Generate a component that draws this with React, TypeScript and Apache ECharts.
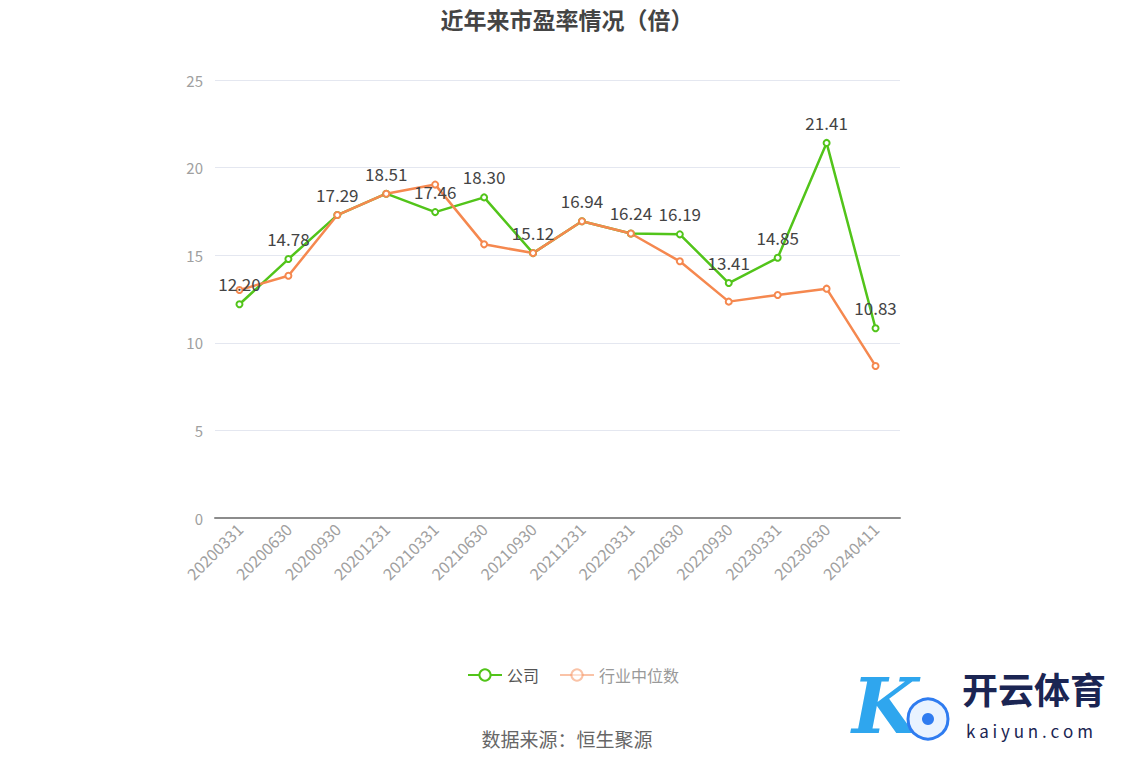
import React, { useEffect, useRef } from "react";
import * as echarts from "echarts";

const categories = ["20200331", "20200630", "20200930", "20201231", "20210331", "20210630", "20210930", "20211231", "20220331", "20220630", "20220930", "20230331", "20230630", "20240411"];
const companyPE = [12.2, 14.78, 17.29, 18.51, 17.46, 18.3, 15.12, 16.94, 16.24, 16.19, 13.41, 14.85, 21.41, 10.83];
const industryPE = [13.01, 13.83, 17.29, 18.51, 19.03, 15.62, 15.12, 16.94, 16.24, 14.65, 12.35, 12.73, 13.09, 8.68];
const seriesNames = ["公司", "行业中位数"];

const GREEN = "#52c41a";
const ORANGE = "#f5884f";
const FONT = "'Noto Sans CJK SC', 'Noto Sans', sans-serif";

export default function App() {
  const ref = useRef<HTMLDivElement>(null);
  useEffect(() => {
    if (!ref.current) return;
    const chart = echarts.init(ref.current, undefined, { renderer: "svg" });
    chart.setOption({
      animation: false,
      textStyle: { fontFamily: FONT },
      title: {
        text: "近年来市盈率情况（倍）",
        left: "center",
        top: 2,
        textStyle: { fontSize: 23, fontWeight: "bold", color: "#444", fontFamily: FONT },
      },
      legend: {
        bottom: 78,
        left: 462,
        itemWidth: 34,
        itemHeight: 14,
        itemGap: 20,
        textStyle: { fontSize: 16, color: "#555", fontFamily: FONT },
        data: [
          { name: seriesNames[0] },
          {
            name: seriesNames[1],
            textStyle: { color: "#999" },
            itemStyle: { opacity: 0.5 },
            lineStyle: { opacity: 0.5 },
          },
        ],
      },
      grid: { left: 215, right: 234, top: 80, bottom: 248, containLabel: false },
      xAxis: {
        type: "category",
        data: categories,
        boundaryGap: true,
        axisLine: { lineStyle: { color: "#8c8c8c", width: 2 } },
        axisTick: { alignWithLabel: true, lineStyle: { color: "#8c8c8c" }, length: 6 },
        axisLabel: { rotate: 45, color: "#a0a0a0", fontSize: 16, margin: 8, fontFamily: FONT },
      },
      yAxis: {
        type: "value",
        min: 0,
        max: 25,
        interval: 5,
        axisLine: { show: false },
        axisTick: { show: false },
        axisLabel: { color: "#a0a0a0", fontSize: 15, margin: 12, fontFamily: FONT },
        splitLine: { lineStyle: { color: "#e4e7f0" } },
      },
      series: [
        {
          name: seriesNames[0],
          type: "line",
          data: companyPE,
          symbol: "emptyCircle",
          symbolSize: 6,
          lineStyle: { color: GREEN, width: 2.5 },
          itemStyle: { color: GREEN, borderWidth: 2 },
          label: {
            show: true,
            position: "top",
            distance: 8,
            color: "#444",
            fontSize: 17,
            formatter: (p: any) => Number(p.value).toFixed(2),
          },
        },
        {
          name: seriesNames[1],
          type: "line",
          data: industryPE,
          symbol: "emptyCircle",
          symbolSize: 6,
          lineStyle: { color: ORANGE, width: 2.5 },
          itemStyle: { color: ORANGE, borderWidth: 2 },
        },
      ],
      graphic: [
        {
          type: "text",
          left: "center",
          top: 729,
          style: { text: "数据来源：恒生聚源", fill: "#666", fontSize: 19, fontFamily: FONT },
        },
        {
          type: "group",
          left: 852,
          top: 668,
          children: [
            {
              type: "text",
              x: 0,
              y: -6,
              style: {
                text: "K",
                fontSize: 76,
                fontStyle: "italic",
                fontWeight: "bold",
                fontFamily: "DejaVu Serif, serif",
                fill: "#2fa6ee",
              },
            },
            {
              type: "circle",
              shape: { cx: 76, cy: 45, r: 20 },
              style: { fill: "#e9f3ff", stroke: "#2f7cf0", lineWidth: 3 },
            },
            {
              type: "circle",
              shape: { cx: 76, cy: 45, r: 6 },
              style: { fill: "#2f7cf0" },
            },
          ],
        },
        {
          type: "text",
          left: 962,
          top: 670,
          style: { text: "开云体育", fill: "#1b2553", fontSize: 36, fontWeight: "bold", fontFamily: FONT },
        },
        {
          type: "text",
          left: 966,
          top: 722,
          style: { text: "k a i y u n . c o m", fill: "#1b2553", fontSize: 17, fontFamily: FONT },
        },
      ],
    });
    return () => chart.dispose();
  }, []);
  return <div ref={ref} style={{ width: 1134, height: 766, margin: -8 }} />;
}
